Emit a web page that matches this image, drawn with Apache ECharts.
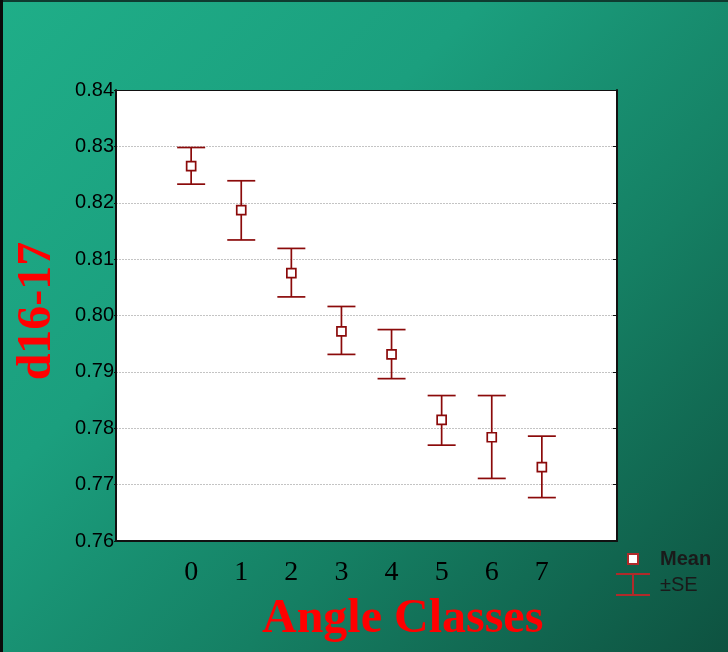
<!DOCTYPE html>
<html>
<head>
<meta charset="utf-8">
<script src="https://cdn.jsdelivr.net/npm/echarts@6/dist/echarts.min.js"></script>
<style>
  html, body { margin: 0; padding: 0; }
  #chart {
    width: 728px; height: 652px;
    background: linear-gradient(135deg, #1fae88 0%, #1b9f7e 35%, #157f63 65%, #0e5240 100%);
    box-shadow: inset 3px 0 0 #0a0a0a, inset 0 2px 0 #0f3b30;
  }
</style>
</head>
<body>
<div id="chart"></div>
<script>
const chartDom = document.querySelector('#chart');
const chart = echarts.init(chartDom, null, {renderer: 'canvas'});

// angle classes, with an empty slot on each side
const categories = ['', '0', '1', '2', '3', '4', '5', '6', '7', ''];
const classes = ['0', '1', '2', '3', '4', '5', '6', '7'];
const means = [0.8265, 0.8187, 0.8075, 0.7972, 0.7931, 0.7815, 0.7784, 0.7731];
const upper = [0.8298, 0.8239, 0.8119, 0.8016, 0.7975, 0.7858, 0.7858, 0.7786];
const lower = [0.8233, 0.8134, 0.8033, 0.7931, 0.7888, 0.7770, 0.7711, 0.7677];
const yTicks = ['0.76', '0.77', '0.78', '0.79', '0.80', '0.81', '0.82', '0.83', '0.84'];

const barColor = '#8b0a0a';

const errorData = classes.map((c, i) => [c, lower[i], upper[i]]);
const meanData = classes.map((c, i) => [c, means[i]]);

const option = {
    animation: false,
    grid: {
        left: 116, right: 111, top: 90, bottom: 111,
        show: true,
        backgroundColor: '#ffffff',
        borderWidth: 0
    },
    xAxis: [
        {
            type: 'category',
            data: categories,
            position: 'bottom',
            boundaryGap: true,
            axisLine: { lineStyle: { color: '#111', width: 2 } },
            axisTick: { inside: true, alignWithLabel: true, length: 4, lineStyle: { color: '#111' } },
            axisLabel: {
                interval: 0, margin: 18,
                fontFamily: '"Liberation Serif", "Times New Roman", serif',
                fontSize: 28, color: '#000'
            },
            splitLine: { show: false }
        },
        {
            type: 'category',
            data: categories,
            position: 'top',
            boundaryGap: true,
            axisLine: { lineStyle: { color: '#111', width: 1 } },
            axisTick: { inside: true, alignWithLabel: true, length: 4, lineStyle: { color: '#111' } },
            axisLabel: { show: false }
        }
    ],
    yAxis: [
        {
            type: 'value',
            min: 0.76, max: 0.84, interval: 0.01,
            position: 'left',
            axisLine: { show: true, lineStyle: { color: '#111', width: 2 } },
            axisTick: { show: true, length: 2, lineStyle: { color: '#111' } },
            axisLabel: {
                margin: 2,
                fontFamily: '"Liberation Sans", Arial, sans-serif',
                fontSize: 20, color: '#000',
                formatter: v => yTicks[Math.round((v - 0.76) * 100)]
            },
            splitLine: { show: true, lineStyle: { color: '#c4c4c4', type: [2, 1], width: 1 } }
        },
        {
            type: 'value',
            min: 0.76, max: 0.84, interval: 0.01,
            position: 'right',
            axisLine: { show: true, lineStyle: { color: '#111', width: 2 } },
            axisTick: { show: true, inside: true, length: 4, lineStyle: { color: '#111' } },
            axisLabel: { show: false },
            splitLine: { show: false }
        }
    ],
    series: [
        {
            name: '±SE',
            type: 'custom',
            xAxisIndex: 0, yAxisIndex: 0,
            data: errorData,
            renderItem: function (params, api) {
                const x = api.value(0);
                const lo = api.coord([x, api.value(1)]);
                const hi = api.coord([x, api.value(2)]);
                const half = 14;
                const style = { stroke: barColor, lineWidth: 1.7 };
                return {
                    type: 'group',
                    children: [
                        { type: 'line', shape: { x1: hi[0], y1: hi[1], x2: lo[0], y2: lo[1] }, style: style },
                        { type: 'line', shape: { x1: hi[0] - half, y1: hi[1], x2: hi[0] + half, y2: hi[1] }, style: style },
                        { type: 'line', shape: { x1: lo[0] - half, y1: lo[1], x2: lo[0] + half, y2: lo[1] }, style: style }
                    ]
                };
            },
            z: 2
        },
        {
            name: 'Mean',
            type: 'scatter',
            data: meanData,
            symbol: 'rect',
            symbolSize: 9,
            itemStyle: { color: '#ffffff', borderColor: barColor, borderWidth: 1.7, opacity: 1 },
            z: 3
        }
    ],
    graphic: [
        {
            type: 'text',
            left: 262, top: 596,
            style: {
                text: 'Angle Classes',
                font: 'bold 48px "Liberation Serif", "Times New Roman", serif',
                fill: '#ff0000'
            }
        },
        {
            type: 'text',
            x: 38, y: 311,
            rotation: Math.PI / 2,
            style: {
                text: 'd16-17',
                font: 'bold 48px "Liberation Serif", "Times New Roman", serif',
                fill: '#ff0000',
                align: 'center',
                verticalAlign: 'middle'
            }
        },
        // legend
        {
            type: 'rect',
            shape: { x: 628, y: 554, width: 10, height: 10 },
            style: { fill: '#ffffff', stroke: '#b02a2a', lineWidth: 2 }
        },
        {
            type: 'text', x: 660, y: 559,
            style: {
                text: 'Mean', fill: '#1a1a1a', verticalAlign: 'middle',
                font: 'bold 20px "Liberation Sans", Arial, sans-serif'
            }
        },
        {
            type: 'line', shape: { x1: 616, y1: 574, x2: 650, y2: 574 },
            style: { stroke: '#b02a2a', lineWidth: 2 }
        },
        {
            type: 'line', shape: { x1: 633, y1: 574, x2: 633, y2: 595 },
            style: { stroke: '#b02a2a', lineWidth: 2 }
        },
        {
            type: 'line', shape: { x1: 616, y1: 595, x2: 650, y2: 595 },
            style: { stroke: '#b02a2a', lineWidth: 2 }
        },
        {
            type: 'text', x: 660, y: 585,
            style: {
                text: '±SE', fill: '#1a1a1a', verticalAlign: 'middle',
                font: '20px "Liberation Sans", Arial, sans-serif'
            }
        }
    ]
};

chart.setOption(option);
window.addEventListener('resize', chart.resize);
</script>
</body>
</html>
